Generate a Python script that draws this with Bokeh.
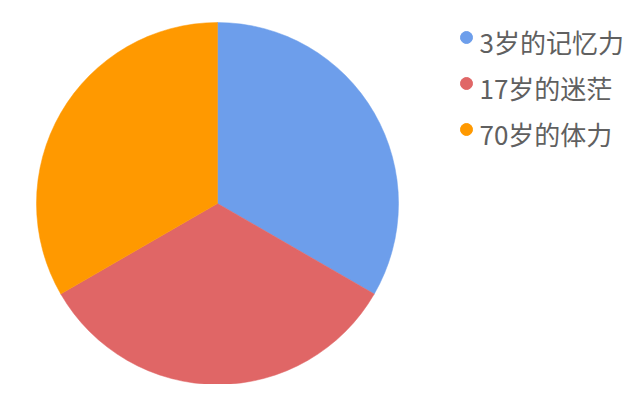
import numpy as np
from bokeh.plotting import figure
from bokeh.models import ColumnDataSource, Range1d
from bokeh.core.properties import value
from bokeh.embed import file_html
from bokeh.resources import INLINE

labels = ["3岁的记忆力", "17岁的迷茫", "70岁的体力"]
shares = [1, 1, 1]
colors = ["#6d9eeb", "#e06666", "#ff9900"]

W, H = 624, 384
p = figure(width=W, height=H, output_backend="svg", toolbar_location=None,
           x_range=Range1d(0, W), y_range=Range1d(0, H), min_border=0)
p.axis.visible = False
p.grid.visible = False
p.outline_line_color = None
p.background_fill_color = "white"
p.border_fill_color = "white"

vals = np.array(shares, dtype=float)
frac = vals / vals.sum()
cum_end = np.cumsum(frac)
cum_start = cum_end - frac
start = np.deg2rad(90 - cum_end * 360)
end = np.deg2rad(90 - cum_start * 360)

src = ColumnDataSource(dict(start=start, end=end, color=colors, label=labels))
cx, cy, r = 217, H - 203, 181
p.wedge(x=cx, y=cy, radius=r, radius_units="screen", start_angle="start", end_angle="end",
        direction="anticlock", fill_color="color", line_color="color", line_width=0.5, source=src)

n = len(labels)
ly = [H - 37 - 46 * i for i in range(n)]
leg = ColumnDataSource(dict(x=[466] * n, y=ly, tx=[479] * n, ty=[yy - 4 for yy in ly],
                            color=colors, label=labels))
p.scatter(x="x", y="y", size=12, marker="circle", fill_color="color", line_color="color", source=leg)
p.text(x="tx", y="ty", text="label", source=leg, text_font=value("Noto Sans CJK SC"),
       text_font_size="26px", text_color="#606060", text_baseline="middle", text_align="left")

open("out.html", "w").write(file_html(p, INLINE))
